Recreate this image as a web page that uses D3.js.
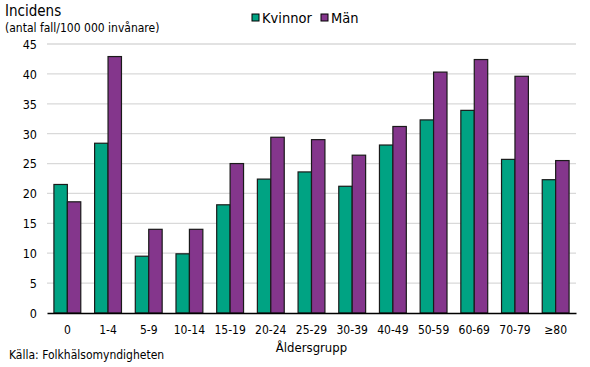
<!DOCTYPE html>
<html>
<head>
<meta charset="utf-8">
<script src="https://cdn.jsdelivr.net/npm/d3@7"></script>
<style>
  body { margin: 0; background: #fff; }
  text { font-family: "DejaVu Sans Condensed", "Liberation Sans", sans-serif; font-stretch: condensed; fill: #000; }
</style>
</head>
<body>
<div id="chart"></div>
<script>
var groups = ["0", "1-4", "5-9", "10-14", "15-19", "20-24", "25-29", "30-39", "40-49", "50-59", "60-69", "70-79", "\u226580"];
var seriesNames = ["Kvinnor", "M\u00e4n"];
var kvinnor = [21.5, 28.4, 9.5, 9.9, 18.1, 22.4, 23.6, 21.2, 28.1, 32.3, 33.9, 25.7, 22.3];
var man = [18.6, 42.9, 14.0, 14.0, 25.0, 29.4, 29.0, 26.4, 31.2, 40.3, 42.4, 39.6, 25.5];
var yTicks = [0, 5, 10, 15, 20, 25, 30, 35, 40, 45];
var colors = ["#00a383", "#84368c"];

var width = 590, height = 367;
var plotLeft = 47, plotRight = 576, plotTop = 44, plotBottom = 313;

var svg = d3.select("#chart").append("svg").attr("width", width).attr("height", height);

var x = d3.scaleBand().domain(groups).range([plotLeft, plotRight]).paddingInner(0.34).paddingOuter(0.17);
var xs = d3.scaleBand().domain(seriesNames).range([0, x.bandwidth()]);
var y = d3.scaleLinear().domain([0, 45]).range([plotBottom, plotTop]);

// rutnät
svg.append("g").selectAll("line").data(yTicks.slice(1)).enter().append("line")
    .attr("x1", plotLeft).attr("x2", plotRight)
    .attr("y1", function(d){ return y(d); }).attr("y2", function(d){ return y(d); })
    .attr("stroke", "#d9d9d9").attr("stroke-width", 1.3);

// y-axel
var yAxis = svg.append("g").attr("transform", "translate(" + plotLeft + ",0)")
    .call(d3.axisLeft(y).tickValues(yTicks).tickSize(0).tickPadding(10));
yAxis.select(".domain").remove();
yAxis.selectAll("text").attr("font-size", 12.5).attr("font-family", null).attr("dy", "0.35em");

var rows = groups.map(function(g, i){ return {group: g, values: [kvinnor[i], man[i]]}; });

var g = svg.append("g").selectAll("g").data(rows).enter().append("g")
    .attr("transform", function(d){ return "translate(" + x(d.group) + ",0)"; });
g.selectAll("rect").data(function(d){ return d.values.map(function(v, j){ return {name: seriesNames[j], v: v, c: colors[j]}; }); })
    .enter().append("rect")
    .attr("x", function(d){ return xs(d.name); })
    .attr("width", xs.bandwidth())
    .attr("y", function(d){ return y(d.v); })
    .attr("height", function(d){ return y(0) - y(d.v); })
    .attr("fill", function(d){ return d.c; })
    .attr("stroke", "#1a1a1a").attr("stroke-width", 1.2);

// x-axel
var xAxis = svg.append("g").attr("transform", "translate(0," + plotBottom + ")")
    .call(d3.axisBottom(x).tickSize(0).tickPadding(12));
xAxis.select(".domain").attr("stroke", "#000").attr("stroke-width", 1.5);
xAxis.selectAll("text").attr("font-size", 12).attr("font-family", null);

// titlar
svg.append("text").attr("x", 5).attr("y", 16).text("Incidens").attr("font-size", 15);
svg.append("text").attr("x", 5).attr("y", 32).text("(antal fall/100 000 inv\u00e5nare)").attr("font-size", 12);
svg.append("text").attr("x", (plotLeft + plotRight) / 2).attr("y", 352).text("\u00c5ldersgrupp")
    .attr("font-size", 13).attr("text-anchor", "middle");
svg.append("text").attr("x", 9).attr("y", 359).text("K\u00e4lla:  Folkh\u00e4lsomyndigheten").attr("font-size", 12);

// legend
var legX = [252, 321];
seriesNames.forEach(function(n, i){
    svg.append("rect").attr("x", legX[i]).attr("y", 14).attr("width", 7).attr("height", 7)
        .attr("fill", colors[i]).attr("stroke", "#000").attr("stroke-width", 1);
    svg.append("text").attr("x", legX[i] + 10).attr("y", 18).attr("dy", "0.35em").text(n).attr("font-size", 14.5);
});
</script>
</body>
</html>
